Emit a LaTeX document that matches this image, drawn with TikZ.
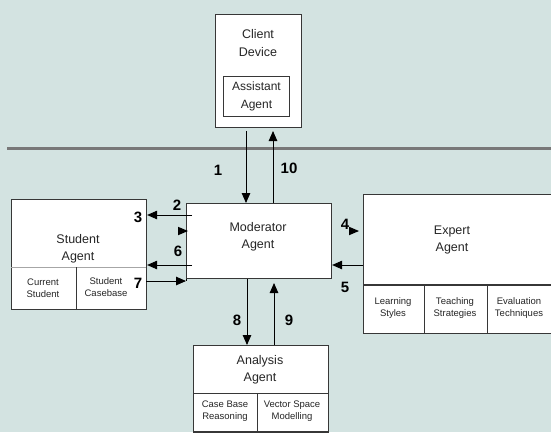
\documentclass[tikz,border=0pt]{standalone}
\usepackage{fontspec}
\setmainfont{Liberation Sans}
\usetikzlibrary{arrows.meta}
\definecolor{bg}{RGB}{211,227,225}
\definecolor{bord}{RGB}{55,55,55}
\definecolor{sep}{RGB}{120,120,120}
\begin{document}
\begin{tikzpicture}[x=1pt,y=-1pt,
  box/.style={draw=bord,line width=1.1pt,fill=white,anchor=north west,inner sep=0pt},
  txt/.style={align=center,inner sep=0pt,font=\fontsize{12.5}{17.5}\selectfont,text=black!85},
  small/.style={align=center,inner sep=0pt,font=\fontsize{9.5}{11.5}\selectfont,text=black!85},
  num/.style={inner sep=0pt,font=\fontsize{15}{15}\selectfont\bfseries},
  arr/.style={line width=0.9pt,-{Triangle[length=10pt,width=8.5pt]}},
  cell/.style={line width=0.9pt,draw=bord}]
\useasboundingbox (0,0) rectangle (551,432);
\fill[bg] (0,0) rectangle (551,432);
% network line
\coordinate (lnL) at (7,148);
\coordinate (lnR) at (551,148);
\draw[line width=3pt,draw=sep] (lnL) -- (lnR);
% client device
\node[box,minimum width=86pt,minimum height=113pt] (client) at (215,14) {};
\node[txt] (clientT) at (258,43) {Client\\Device};
\node[box,minimum width=66pt,minimum height=40pt,line width=0.9pt] (assist) at (223,76) {};
\node[txt,font=\fontsize{12}{18.5}\selectfont] (assistT) at (assist.center) {Assistant\\Agent};
% moderator
\node[box,minimum width=145pt,minimum height=75pt] (mod) at (186,203) {};
\node[txt] (modT) at (258,237) {Moderator\\Agent};
% student
\node[box,minimum width=135pt,minimum height=110pt] (stud) at (11,199) {};
\node[txt] (studT) at (78,249) {Student\\Agent};
\coordinate (sdL) at (11,267);
\coordinate (sdR) at (146,267);
\coordinate (sdT) at (76,267);
\draw[line width=0.9pt,draw=black!35] (sdL) -- (sdR);
\draw[cell] (sdT) -- (sdT |- stud.south);
\node[small] (cur) at (43,288) {Current\\Student};
\node[small] (cb) at (106,287) {Student\\Casebase};
% expert
\node[box,minimum width=190pt,minimum height=139pt] (exp) at (363,194) {};
\node[txt] (expT) at (452,240) {Expert\\Agent};
\coordinate (edL) at (363,285);
\coordinate (edR) at (553,285);
\coordinate (ed1) at (424,285);
\coordinate (ed2) at (487,285);
\draw[line width=1.4pt,draw=bord] (edL) -- (edR);
\draw[cell] (ed1) -- (ed1 |- exp.south);
\draw[cell] (ed2) -- (ed2 |- exp.south);
\node[small] (ls) at (393,308) {Learning\\Styles};
\node[small] (ts) at (455,308) {Teaching\\Strategies};
\node[small] (et) at (519,308) {Evaluation\\Techniques};
% analysis
\node[box,minimum width=135pt,minimum height=86pt] (ana) at (193,345) {};
\node[txt] (anaT) at (260,370) {Analysis\\Agent};
\coordinate (adL) at (193,393);
\coordinate (adR) at (328,393);
\coordinate (adT) at (257,393);
\draw[cell] (adL) -- (adR);
\draw[cell] (adT) -- (adT |- ana.south);
\draw[line width=2pt,draw=bord] (ana.south west) -- (ana.south east);
\node[small] (cbr) at (225,411) {Case Base\\Reasoning};
\node[small] (vsm) at (292,411) {Vector Space\\Modelling};
% connectors
\coordinate (a1) at (246,131);
\coordinate (a10) at (273,131);
\draw[arr] (a1) -- (a1 |- mod.north);
\draw[arr] (a10 |- mod.north) -- (a10);
\coordinate (m2) at (192,215);
\coordinate (m6) at (192,265);
\coordinate (s7) at (146,281);
\draw[arr] (m2) -- (m2 -| stud.east);
\draw[arr] (m6) -- (m6 -| stud.east);
\draw[arr] (s7) -- (s7 -| mod.west);
\draw (mod.south west) -- (s7 -| mod.west);
\coordinate (h3a) at (178,231);
\coordinate (h3b) at (188,231);
\draw[arr,line width=0pt] (h3a) -- (h3b);
\coordinate (h4a) at (349,231);
\coordinate (h4b) at (359,231);
\draw[arr,line width=0pt] (h4a) -- (h4b);
\coordinate (e5) at (363,265);
\draw[arr] (e5) -- (e5 -| mod.east);
\coordinate (c8) at (247,0);
\coordinate (c9) at (274,0);
\draw[arr] (mod.south -| c8) -- (ana.north -| c8);
\coordinate (t9) at (274,283);
\draw[arr] (ana.north -| c9) -- (t9);
% labels
\node[num] (n1) at (218,170) {1};
\node[num] (n10) at (289,168) {10};
\node[num] (n2) at (177,205) {2};
\node[num] (n3) at (138,217) {3};
\node[num] (n6) at (178,251) {6};
\node[num] (n7) at (138,283) {7};
\node[num] (n4) at (345,224) {4};
\node[num] (n5) at (345,287) {5};
\node[num] (n8) at (237,320) {8};
\node[num] (n9) at (289,320) {9};
\end{tikzpicture}
\end{document}
